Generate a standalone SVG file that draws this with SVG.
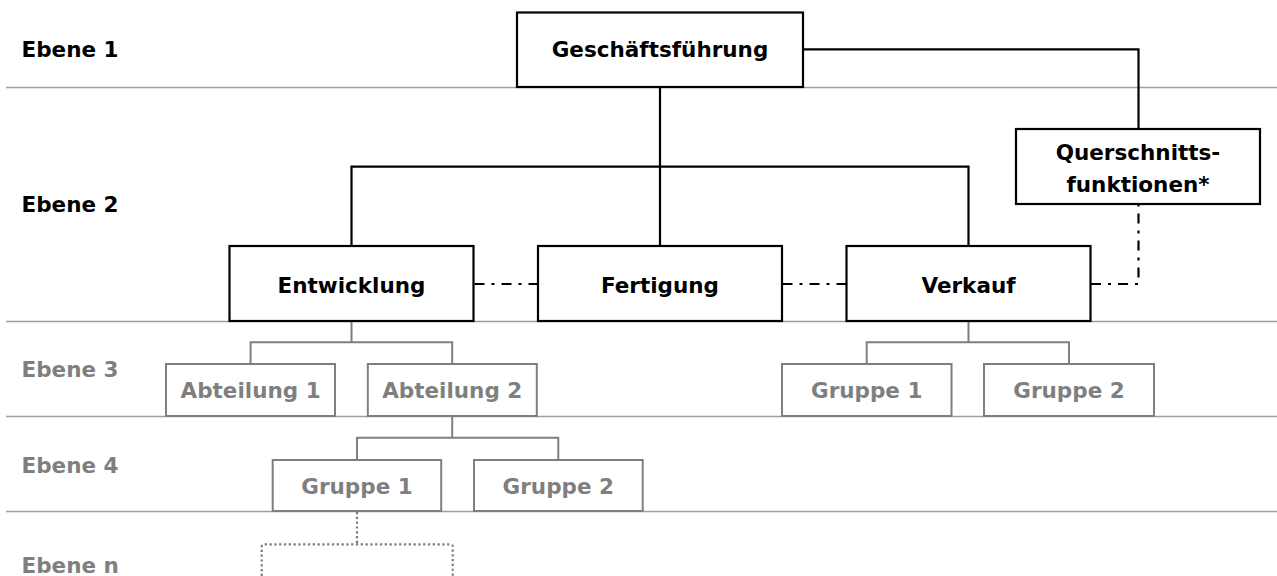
<svg xmlns="http://www.w3.org/2000/svg" width="1277" height="576" viewBox="0 0 1277 576">
<style>
.sep{stroke:#a0a0a0;stroke-width:1.5;fill:none}
.bk{fill:#fff;stroke:#000;stroke-width:2.2}
.gr{fill:#fff;stroke:#7f7f7f;stroke-width:2}
.t{font-family:"DejaVu Sans",Verdana,sans-serif;font-weight:bold;font-size:21.5px}
.tb{fill:#000}
.tg{fill:#7f7f7f}
.c{text-anchor:middle}
.lk{stroke:#000;stroke-width:2.2;fill:none}
.lg{stroke:#7f7f7f;stroke-width:2;fill:none}
.dd{stroke:#000;stroke-width:2.2;fill:none;stroke-dasharray:10 7 3 7}
.dt{stroke:#7a7a7a;stroke-width:2.2;fill:none;stroke-dasharray:2.2 2.6}
</style>
<rect width="1277" height="576" fill="#fff"/>
<g id="separators">
<line class="sep" x1="6" y1="87.5" x2="1277" y2="87.5"/>
<line class="sep" x1="6" y1="321.5" x2="1277" y2="321.5"/>
<line class="sep" x1="6" y1="416.5" x2="1277" y2="416.5"/>
<line class="sep" x1="6" y1="511.5" x2="1277" y2="511.5"/>
</g>
<g id="level-labels" class="t">
<text class="tb" x="21.5" y="57.3">Ebene 1</text>
<text class="tb" x="21.5" y="212.3">Ebene 2</text>
<text class="tg" x="21.5" y="376.7">Ebene 3</text>
<text class="tg" x="21.5" y="472.7">Ebene 4</text>
<text class="tg" x="21.5" y="572.7">Ebene n</text>
</g>
<g id="connectors">
<path class="lk" d="M660,87 V246"/>
<path class="lk" d="M351.5,246 V166.7 H968.5 V246"/>
<path class="lk" d="M803,49.3 H1138.5 V129"/>
<path class="dd" d="M474.5,284 H538"/>
<path class="dd" d="M782.5,284 H846"/>
<path class="dd" d="M1091,284 H1138.5 V204"/>
<path class="lg" d="M351.5,322 V342.3 M250.6,364 V342.3 H452.2 V364"/>
<path class="lg" d="M452.2,417 V437.7 M357,460 V437.7 H558.3 V460"/>
<path class="lg" d="M968.5,322 V342.3 M866.7,364 V342.3 H1069 V364"/>
<path class="dt" d="M357,512 V544.3"/>
<path class="dt" d="M261.7,576 V547 Q261.7,544.3 264.4,544.3 H450 Q452.7,544.3 452.7,547 V576"/>
</g>
<g id="geschaeftsfuehrung">
<rect class="bk" x="517" y="12.5" width="286" height="74.5"/>
<text class="t tb c" x="660" y="57">Geschäftsführung</text>
</g>
<g id="querschnittsfunktionen">
<rect class="bk" x="1016" y="129" width="244" height="75"/>
<text class="t tb c" x="1138" y="160">Querschnitts-</text>
<text class="t tb c" x="1138" y="191.5">funktionen*</text>
</g>
<g id="entwicklung">
<rect class="bk" x="229.5" y="246" width="244" height="75"/>
<text class="t tb c" x="351.5" y="293.3">Entwicklung</text>
</g>
<g id="fertigung">
<rect class="bk" x="538" y="246" width="244" height="75"/>
<text class="t tb c" x="660" y="293.3">Fertigung</text>
</g>
<g id="verkauf">
<rect class="bk" x="846.5" y="246" width="244" height="75"/>
<text class="t tb c" x="968.5" y="293.3">Verkauf</text>
</g>
<g id="abteilung1">
<rect class="gr" x="166" y="364" width="169" height="52"/>
<text class="t tg c" x="250.6" y="398.3">Abteilung 1</text>
</g>
<g id="abteilung2">
<rect class="gr" x="367.8" y="364" width="169" height="52"/>
<text class="t tg c" x="452.2" y="398.3">Abteilung 2</text>
</g>
<g id="verkauf-gruppe1">
<rect class="gr" x="782" y="364" width="169.5" height="52"/>
<text class="t tg c" x="866.7" y="398.3">Gruppe 1</text>
</g>
<g id="verkauf-gruppe2">
<rect class="gr" x="984" y="364" width="170" height="52"/>
<text class="t tg c" x="1069" y="398.3">Gruppe 2</text>
</g>
<g id="abteilung2-gruppe1">
<rect class="gr" x="272.7" y="460" width="168.5" height="51"/>
<text class="t tg c" x="357" y="494.3">Gruppe 1</text>
</g>
<g id="abteilung2-gruppe2">
<rect class="gr" x="474" y="460" width="168.7" height="51"/>
<text class="t tg c" x="558.3" y="494.3">Gruppe 2</text>
</g>
</svg>
